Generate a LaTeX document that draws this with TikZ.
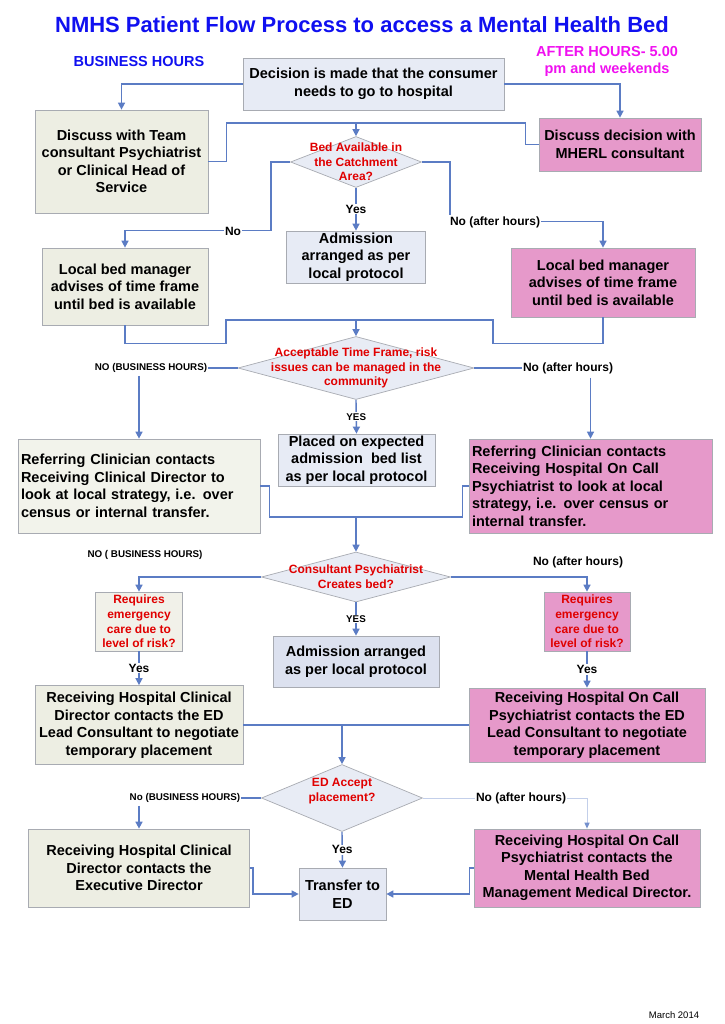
\documentclass[tikz,border=0pt]{standalone}
\usepackage{fontspec}
\setmainfont{Liberation Sans}
\usetikzlibrary{shapes.geometric,arrows.meta,positioning}
\definecolor{flowblue}{HTML}{5B7CC4}
\definecolor{paleblue}{HTML}{C3CFEA}
\definecolor{boxgray}{HTML}{A8ABB2}
\definecolor{calmfill}{HTML}{E7EBF5}
\definecolor{admfill}{HTML}{DCE1EF}
\definecolor{creamfill}{HTML}{EDEEE3}
\definecolor{rosefill}{HTML}{E699CA}
\definecolor{askfill}{HTML}{E8ECF5}
\definecolor{askred}{HTML}{E00000}
\definecolor{titleblue}{HTML}{1010F0}
\definecolor{aftermagenta}{HTML}{F010F0}
\newcommand{\PFTitle}{\fontsize{22}{26}\selectfont\bfseries}
\newcommand{\PFBox}{\fontsize{14.5}{17.5}\selectfont\bfseries}
\newcommand{\PFAsk}{\fontsize{12}{14.6}\selectfont\bfseries}
\newcommand{\PFLabel}{\fontsize{12}{14}\selectfont\bfseries}
\newcommand{\PFCaps}{\fontsize{9.8}{12}\selectfont\bfseries}
\begin{document}
\begin{tikzpicture}[x=1pt, y=-1pt,
	flow/.style={draw=flowblue, line width=1.4pt},
	arr/.style={flow, -{Triangle[length=7pt,width=7pt]}},
	pale/.style={draw=paleblue, line width=1pt},
	palearr/.style={pale, -{Triangle[length=6pt,width=5pt,color=flowblue!85]}},
	box/.style={draw=boxgray, line width=0.7pt, inner sep=1pt, align=center, font=\PFBox},
	calm/.style={box, fill=calmfill},
	cream/.style={box, fill=creamfill},
	rose/.style={box, fill=rosefill},
	ask/.style={diamond, draw=boxgray, fill=askfill, line width=0.7pt, inner sep=0pt},
	asktext/.style={font=\PFAsk, text=askred, align=center, inner sep=0pt},
	yes/.style={font=\PFLabel, fill=white, inner sep=1pt},
	caps/.style={font=\PFCaps, fill=white, inner sep=1pt}]
		\path[use as bounding box, fill=white] (0,0) rectangle (724,1024);
		\node[font=\PFTitle, text=titleblue] (title) at (362,25) {NMHS Patient Flow Process to access a Mental Health Bed};
		\node[font=\PFBox, text=titleblue] (bhours) at (139,62) {BUSINESS HOURS};
		\node[font=\PFBox, text=aftermagenta, align=center] (ahours) at (607,61.5) {AFTER HOURS- 5.00\\pm and weekends};
		\node[calm, minimum width=261pt, minimum height=52pt] (dec) at (373.5,84) {Decision is made that the consumer\\needs to go to hospital};
		\node[cream, minimum width=173pt, minimum height=103pt] (team) at (121.5,161.5) {Discuss with Team\\consultant Psychiatrist\\or Clinical Head of\\Service};
		\node[rose, minimum width=162pt, minimum height=53pt] (mherl) at (620,144.5) {Discuss decision with\\MHERL consultant};
		\node[ask, minimum width=131pt, minimum height=51pt] (bedq) at (356,162) {};
		\node[asktext] (bedqt) at (bedq) {Bed Available in\\the Catchment\\Area?};
		\node[calm, minimum width=139pt, minimum height=52pt] (adm1) at (356,257) {Admission\\arranged as per\\local protocol};
		\node[cream, minimum width=166pt, minimum height=77pt] (lbmL) at (125,286.5) {Local bed manager\\advises of time frame\\until bed is available};
		\node[rose, minimum width=184pt, minimum height=69pt] (lbmR) at (603,282.5) {Local bed manager\\advises of time frame\\until bed is available};
		\node[ask, minimum width=236pt, minimum height=63pt] (tfq) at (356,368) {};
		\node[asktext] (tfqt) at (tfq) {Acceptable Time Frame, risk\\issues can be managed in the\\community};
		\node[calm, minimum width=157pt, minimum height=52pt] (placed) at (356.5,460) {Placed on expected\\admission\ \ bed list\\as per local protocol};
		\node[cream, fill=creamfill!70, text width=236pt, align=left, inner sep=3pt, minimum height=94pt] (refL) at (139,486) {Referring Clinician contacts\\Receiving Clinical Director to\\look at local strategy, i.e. over\\census or internal transfer.};
		\node[rose, text width=237pt, align=left, inner sep=3pt, minimum height=94pt] (refR) at (590.5,486) {Referring Clinician contacts\\Receiving Hospital On Call\\Psychiatrist to look at local\\strategy, i.e. over census or\\internal transfer.};
		\node[ask, minimum width=189pt, minimum height=50pt] (cpq) at (356,577) {};
		\node[asktext] (cpqt) at (cpq) {Consultant Psychiatrist\\Creates bed?};
		\node[cream, fill=creamfill!80, font=\PFAsk, text=askred, minimum width=87pt, minimum height=59pt] (emL) at (139,621.5) {Requires\\emergency\\care due to\\level of risk?};
		\node[rose, font=\PFAsk, text=askred, minimum width=86pt, minimum height=59pt] (emR) at (587,621.5) {Requires\\emergency\\care due to\\level of risk?};
		\node[box, fill=admfill, minimum width=166pt, minimum height=51pt] (adm2) at (356,661.5) {Admission arranged\\as per local protocol};
		\node[cream, minimum width=208pt, minimum height=79pt] (rhL) at (139,725) {Receiving Hospital Clinical\\Director contacts the ED\\Lead Consultant to negotiate\\temporary placement};
		\node[rose, minimum width=236pt, minimum height=74pt] (rhR) at (587,725) {Receiving Hospital On Call\\Psychiatrist contacts the ED\\Lead Consultant to negotiate\\temporary placement};
		\node[ask, minimum width=161pt, minimum height=67pt] (edq) at (342,798) {};
		\node[asktext] (edqt) at ([yshift=7pt]edq) {ED Accept\\placement?};
		\node[cream, minimum width=221pt, minimum height=78pt] (exL) at (139,868) {Receiving Hospital Clinical\\Director contacts the\\Executive Director};
		\node[rose, minimum width=226pt, minimum height=78pt] (exR) at (587,868) {Receiving Hospital On Call\\Psychiatrist contacts the\\Mental Health Bed\\Management Medical Director.};
		\node[calm, fill=calmfill!80!admfill, minimum width=87pt, minimum height=52pt] (ted) at (342.5,894) {Transfer to\\ED};
		\node[font=\fontsize{9.5}{11}\selectfont] (date) at (674,1015) {March 2014};
		\draw[arr] (dec.west) -| (team.north);
		\draw[arr] (dec.east) -| (mherl.north);
		\coordinate (j1) at (356,123);
		\draw[flow] (team.east) -- ++(18,0) |- (j1) -| ([xshift=-13pt]mherl.west) -- (mherl.west);
		\draw[arr] (j1) -- (bedq.north);
		\draw[arr] (bedq.west) -- ++(-19,0) |- ([yshift=17pt]lbmL.north) -- (lbmL.north);
		\node[yes] (no1) at (233,231) {No};
		\draw[arr] (bedq.south) -- node[yes] (yes1) {Yes} (adm1.north);
		\draw[arr] (bedq.east) -- ++(28,0) |- ([yshift=26pt]lbmR.north) -- (lbmR.north);
		\node[yes] (noah1) at (495,222) {No (after hours)};
		\coordinate (j2) at (356,320);
		\draw[flow] (lbmL.south) -- ++(0,18) -- ++(101,0) |- (j2) -- ++(137,0) |- ([yshift=-26pt]lbmR.south) -- (lbmR.south);
		\draw[arr] (j2) -- (tfq.north);
		\node[caps] (nobh1) at (151,368) {NO (BUSINESS HOURS)};
		\node[yes] (noah2) at (568,368) {No (after hours)};
		\draw[flow] (tfq.west) -- (nobh1.east);
		\draw[flow] (tfq.east) -- (noah2.west);
		\draw[arr] ([yshift=-2pt]nobh1.south -| refL.north) -- (refL.north);
		\draw[arr] ([yshift=-3pt]noah2.south -| refR.north) -- (refR.north);
		\draw[arr] (tfq.south) -- node[caps] (yes2) {YES} (placed.north);
		\coordinate (j3) at (356,517);
		\draw[flow] (refL.east) -- ++(9,0) |- (j3) -| ([xshift=-6pt]refR.west) -- (refR.west);
		\draw[arr] (j3) -- (cpq.north);
		\node[caps] (nobh2) at (145,555) {NO ( BUSINESS HOURS)};
		\node[yes] (noah3) at (578,562) {No (after hours)};
		\draw[arr] (cpq.west) -| (emL.north);
		\draw[arr] (cpq.east) -| (emR.north);
		\draw[arr] (cpq.south) -- node[caps] (yes3) {YES} (adm2.north);
		\draw[arr] (emL.south) -- node[yes] (yes4) {Yes} (rhL.north);
		\draw[arr] (emR.south) -- node[yes] (yes5) {Yes} (rhR.north);
		\draw[flow] (rhL.east) -- (rhR.west);
		\coordinate (j4) at (342,725);
		\draw[arr] (j4) -- (edq.north);
		\node[caps] (nobh3) at (185,798) {No (BUSINESS HOURS)};
		\node[yes] (noah4) at (521,798) {No (after hours)};
		\draw[flow] (edq.west) -- (nobh3.east);
		\draw[arr] ([yshift=-2pt]nobh3.south -| exL.north) -- (exL.north);
		\draw[pale] (edq.east) -- (noah4.west);
		\draw[palearr] (noah4.east) -| (exR.north);
		\draw[arr] (edq.south) -- node[yes] (yes6) {Yes} (ted.north);
		\draw[arr] (exL.east) -- ++(3,0) |- (ted.west);
		\draw[arr] (exR.west) -- ++(-4,0) |- (ted.east);
\end{tikzpicture}
\end{document}
